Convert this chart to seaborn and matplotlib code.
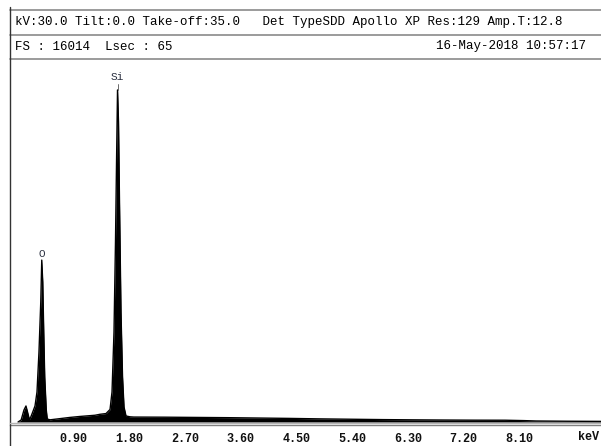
import numpy as np
import pandas as pd
import matplotlib
matplotlib.use("Agg")
import matplotlib.pyplot as plt
import matplotlib.transforms as mtransforms
from matplotlib.lines import Line2D
import seaborn as sns

# ---- data ----
energy_kev = [0.13, 0.18, 0.226, 0.258, 0.283, 0.307, 0.323, 0.355, 0.404, 0.436,
              0.468, 0.497, 0.513, 0.529, 0.545, 0.561, 0.586, 0.602, 0.646, 0.808,
              0.969, 1.131, 1.373, 1.454, 1.551, 1.616, 1.648, 1.680, 1.704, 1.721,
              1.737, 1.753, 1.769, 1.793, 1.818, 1.842, 1.874, 1.939, 2.0, 2.5,
              3.0, 3.5, 4.0, 4.5, 5.0, 5.5, 6.0, 6.5, 7.0, 7.5,
              8.0, 8.3, 8.5, 9.0, 9.55]
counts = [0, 83, 500, 665, 415, 166, 125, 332, 665, 1245,
          2905, 4980, 6720, 5810, 3735, 1870, 500, 125, 90, 140,
          190, 230, 280, 320, 350, 520, 1245, 3735, 7470, 10790,
          13780, 12450, 9130, 4565, 1870, 620, 250, 215, 205, 200,
          190, 180, 165, 150, 130, 115, 100, 90, 82, 76,
          74, 58, 42, 32, 25]

tick_values = [0.90, 1.80, 2.70, 3.60, 4.50, 5.40, 6.30, 7.20, 8.10]
tick_labels = ["0.90", "1.80", "2.70", "3.60", "4.50", "5.40", "6.30", "7.20", "8.10"]

peak_names = ["O", "Si"]
peak_energy = [0.513, 1.737]
peak_counts = [6720, 13780]

header_line1 = "kV:30.0 Tilt:0.0 Take-off:35.0   Det TypeSDD Apollo XP Res:129 Amp.T:12.8"
header_left2 = "FS : 16014  Lsec : 65"
header_right2 = "16-May-2018 10:57:17"

# ---- figure ----
sns.set_style("white")
plt.rcParams['font.family'] = ['Liberation Mono', 'DejaVu Sans Mono']

W, H = 601, 446
PX = 41.5  # counts per pixel
fig = plt.figure(figsize=(W / 100, H / 100), dpi=100)

def fx(x):
    return x / W

def fy(y):
    return 1 - y / H

# axes: x from px 10 to 601, y from px 425 (bottom) to 60 (top)
ax = fig.add_axes([fx(10), fy(425), (W - 10) / W, (425 - 60) / H])
ax.set_facecolor("white")

df = pd.DataFrame({"energy": energy_kev, "counts": counts})
ax.fill_between(df["energy"], 0, df["counts"], color="black", lw=0)
sns.lineplot(data=df, x="energy", y="counts", color="black", lw=1.0, ax=ax,
             estimator=None, sort=False)

ax.set_xlim(0, (W - 10) / 61.9)
ax.set_ylim(-3 * PX, (422 - 60) * PX)

for s in ["top", "right", "left"]:
    ax.spines[s].set_visible(False)
ax.spines["bottom"].set_color("#808080")
ax.spines["bottom"].set_linewidth(1.0)

ax.set_xticks(tick_values)
ax.set_xticklabels(tick_labels, fontsize=8.5, color="#111111", fontweight="bold")
ax.set_yticks([])
ax.tick_params(axis="x", direction="out", length=4, width=0.8, color="#555555", pad=1.5)
ax.set_xlabel("")
ax.set_ylabel("")

shift = mtransforms.ScaledTranslation(8 / 100, 0, fig.dpi_scale_trans)
for lab in ax.get_xticklabels():
    lab.set_transform(lab.get_transform() + shift)

fig.text(fx(578), fy(437), "keV", fontsize=8.5, color="#111111",
         fontweight="bold", ha="left", va="center")

# peak labels
leader_px = [0, 6]
for name, e, c, lp in zip(peak_names, peak_energy, peak_counts, leader_px):
    if lp > 0:
        ax.plot([e, e], [c, c + lp * PX], color="#555555", lw=0.6)
    ax.text(e, c + (lp + 1.5) * PX, name, ha="center", va="bottom", fontsize=8,
            color="#2a3040")

# header frame lines
for y in [10, 35, 59]:
    fig.add_artist(Line2D([fx(10), 1.0], [fy(y), fy(y)], color="#8a8a8a", lw=1.2))
fig.add_artist(Line2D([fx(10), fx(10)], [fy(7), 0.0], color="#333333", lw=1.0))
fig.add_artist(Line2D([fx(10), 1.0], [fy(423), fy(423)], color="#b5b5b5", lw=1.0))

fig.text(fx(15), fy(22.5), header_line1, fontsize=9, color="#000000", ha="left", va="center")
fig.text(fx(15), fy(46.5), header_left2, fontsize=9, color="#000000", ha="left", va="center")
fig.text(fx(586), fy(46.5), header_right2, fontsize=9, color="#000000", ha="right", va="center")

fig.savefig("out.png", dpi=100, facecolor="white")
